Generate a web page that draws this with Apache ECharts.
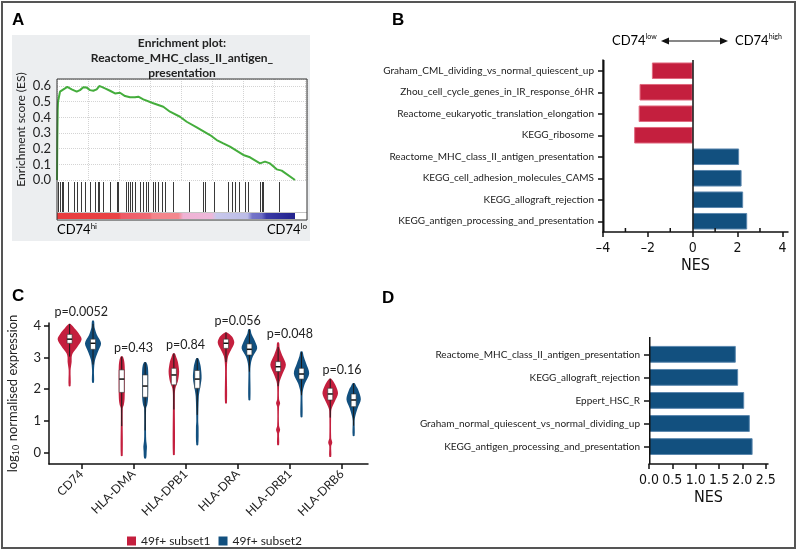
<!DOCTYPE html>
<html lang="en">
<head>
<meta charset="UTF-8">
<title>CD74 enrichment and expression panels</title>
<script src="https://cdn.jsdelivr.net/npm/echarts@6.0.0/dist/echarts.min.js"></script>
<style>
  html, body { margin: 0; padding: 0; background: #fff; }
  #chart { width: 800px; height: 554px; }
</style>
</head>
<body>
<div id="chart"></div>
<script>
// ---------- panel A: GSEA running enrichment score, [rank, ES]
const esCurve = [
  [0, 0], [0.3, 0.25], [0.7, 0.45], [1, 0.5], [3, 0.564], [5.3, 0.574], [8, 0.585],
  [10.3, 0.595], [14.7, 0.579], [19.7, 0.564], [23, 0.574], [26.3, 0.592], [29.7, 0.59],
  [33, 0.574], [36.3, 0.57], [39.7, 0.579], [42.3, 0.6], [44.7, 0.595], [48, 0.585],
  [53, 0.57], [58, 0.553], [63, 0.557], [68, 0.536], [73, 0.528], [78, 0.528],
  [81.3, 0.532], [86.3, 0.515], [96.3, 0.49], [106.3, 0.468], [113, 0.436], [123, 0.404],
  [129.7, 0.372], [139.7, 0.336], [153, 0.287], [159.7, 0.255], [166.3, 0.234],
  [173, 0.213], [186.3, 0.16], [193, 0.145], [203, 0.106], [208, 0.117], [213, 0.106],
  [219.7, 0.068], [224.7, 0.06], [238, 0]
];
// positions of the gene-set members in the ranked list
const hitRanks = [
  0.7, 2.7, 4.7, 6.3, 10.7, 17.3, 19.7, 24, 28, 33, 38, 40.7, 42, 46.3, 53, 59.7, 61.3,
  69, 71.3, 73, 74.7, 78, 83, 86.3, 88.7, 91.3, 95.7, 98, 101.3, 104.7, 108, 116.3,
  132.3, 145.7, 148, 157.3, 171.3, 174.7, 178, 182.3, 188, 191.3, 203, 204.7, 206.3, 221.7
];

// ---------- panel B
const pathwaysB = [
  'Graham_CML_dividing_vs_normal_quiescent_up',
  'Zhou_cell_cycle_genes_in_IR_response_6HR',
  'Reactome_eukaryotic_translation_elongation',
  'KEGG_ribosome',
  'Reactome_MHC_class_II_antigen_presentation',
  'KEGG_cell_adhesion_molecules_CAMS',
  'KEGG_allograft_rejection',
  'KEGG_antigen_processing_and_presentation'
];
const nesB = [-1.82, -2.37, -2.41, -2.61, 2.07, 2.18, 2.25, 2.43];
const nesTicksB = [-4, -2, 0, 2, 4];
const nesMinorB = [-3, -1, 1, 3];

// ---------- panel C: violins, density profiles [log10 expression, relative density]
const genes = ['CD74', 'HLA-DMA', 'HLA-DPB1', 'HLA-DRA', 'HLA-DRB1', 'HLA-DRB6'];
const pValues = ['p=0.0052', 'p=0.43', 'p=0.84', 'p=0.056', 'p=0.048', 'p=0.16'];
const exprTicks = [0, 1, 2, 3, 4];
const subset1Density = [
  [[2.1, .08], [2.6, .08], [2.87, .17], [3.0, .17], [3.13, .25], [3.35, .67], [3.58, 1], [3.77, .75], [3.92, .42], [4.06, .08]],
  [[-0.1, .08], [1.4, .08], [1.5, .17], [1.7, .24], [2.3, .26], [2.71, .25], [2.9, .2], [3.03, .08]],
  [[-0.07, .08], [1.8, .08], [2.03, .13], [2.24, .33], [2.56, .44], [2.87, .33], [3.0, .21], [3.13, .08]],
  [[1.56, .08], [2.7, .08], [3.03, .17], [3.24, .42], [3.47, .69], [3.66, .5], [3.79, .08]],
  [[0.24, .08], [0.6, .08], [0.72, .17], [0.85, .08], [1.45, .08], [1.56, .17], [1.68, .08], [2.1, .08], [2.24, .13], [2.45, .33], [2.77, .65], [3.08, .33], [3.3, .13], [3.47, .08]],
  [[-0.13, .08], [0.2, .08], [0.32, .17], [0.45, .08], [1.3, .08], [1.4, .13], [1.61, .38], [1.87, .65], [2.14, .42], [2.33, .08]]
];
const subset2Density = [
  [[2.21, .08], [2.6, .08], [2.92, .17], [3.19, .42], [3.45, .67], [3.71, .33], [3.95, .13], [4.16, .08]],
  [[-0.18, .08], [0.05, .13], [0.19, .15], [0.35, .1], [0.5, .08], [1.4, .08], [1.5, .17], [1.7, .24], [2.3, .26], [2.6, .25], [2.75, .2], [2.85, .08]],
  [[0.24, .08], [0.8, .11], [1.0, .08], [1.77, .13], [1.98, .21], [2.35, .36], [2.71, .29], [2.9, .17], [2.98, .08]],
  [[1.66, .08], [2.6, .08], [2.82, .13], [3.03, .29], [3.29, .65], [3.55, .42], [3.75, .17], [3.89, .08]],
  [[1.12, .08], [1.8, .08], [1.98, .13], [2.19, .29], [2.5, .64], [2.82, .38], [3.05, .17], [3.19, .08]],
  [[0.53, .08], [1.0, .08], [1.14, .13], [1.4, .33], [1.68, .6], [1.98, .38], [2.1, .21], [2.19, .08]]
];
// [q1, median, q3]
const subset1Box = [[3.45, 3.58, 3.73], [1.9, 2.32, 2.61], [2.14, 2.45, 2.66], [3.29, 3.45, 3.58], [2.56, 2.71, 2.87], [1.66, 1.85, 2.03]];
const subset2Box = [[3.26, 3.45, 3.58], [1.75, 2.1, 2.45], [2.03, 2.32, 2.59], [3.08, 3.26, 3.43], [2.32, 2.48, 2.66], [1.45, 1.66, 1.85]];

// ---------- panel D
const pathwaysD = [
  'Reactome_MHC_class_II_antigen_presentation',
  'KEGG_allograft_rejection',
  'Eppert_HSC_R',
  'Graham_normal_quiescent_vs_normal_dividing_up',
  'KEGG_antigen_processing_and_presentation'
];
const nesD = [1.86, 1.91, 2.04, 2.16, 2.22];
const nesTicksD = [0, 0.5, 1, 1.5, 2, 2.5];

// ---------- styles
const RED = '#c41f3e', RED_EDGE = '#e0687e', BLUE = '#12507f', BLUE_EDGE = '#5b87ae';
const GREEN = '#44ad3c';
const INK = '#111';
const SANS = 'Lato, "Open Sans", sans-serif';
const NARROW = '"Liberation Sans Narrow", "DejaVu Sans Condensed", sans-serif';
const LETTER = '"Liberation Sans", Arial, sans-serif';
const VIOLIN_HALF = 12;    // px half width at density 1
const VIOLIN_SHIFT = 11.7; // px offset of each subset from the gene tick
const RANK_COLORS = [
  { offset: 0, color: '#e83b3d' }, { offset: 0.26, color: '#ea4446' },
  { offset: 0.27, color: '#ef5a66' }, { offset: 0.39, color: '#f06a74' },
  { offset: 0.40, color: '#f4848a' }, { offset: 0.51, color: '#f4888e' },
  { offset: 0.53, color: '#f0b2d4' }, { offset: 0.65, color: '#eeb8da' },
  { offset: 0.67, color: '#c8c8ec' }, { offset: 0.80, color: '#bcbce6' },
  { offset: 0.82, color: '#7474c8' }, { offset: 0.86, color: '#6a6ac4' },
  { offset: 0.88, color: '#3a3aa6' }, { offset: 1, color: '#22228c' }
];

const axisLineStyle = { color: INK, width: 1.5 };
const supRich = {
  a: { fontSize: 13, fontFamily: SANS, color: '#222' },
  s: { fontSize: 8, fontFamily: SANS, color: '#222', padding: [0, 0, 8, 0] }
};
const headRich = {
  a: { fontSize: 13, fontFamily: SANS, color: '#222' },
  s: { fontSize: 7, fontFamily: SANS, color: '#222', padding: [0, 0, 8, 0] }
};

function violinRenderer(density, box, shift, color) {
  return function (params, api) {
    const k = api.value(0);
    const prof = density[k];
    const cx = api.coord([k, 0])[0] + shift;
    const y = v => api.coord([k, v])[1];
    const right = prof.map(p => [cx + p[1] * VIOLIN_HALF, y(p[0])]);
    const left = prof.slice().reverse().map(p => [cx - p[1] * VIOLIN_HALF, y(p[0])]);
    const q1 = box[k][0], med = box[k][1], q3 = box[k][2];
    const iqr = q3 - q1;
    const lo = Math.max(prof[0][0], q1 - 1.5 * iqr);
    const hi = Math.min(prof[prof.length - 1][0], q3 + 1.5 * iqr);
    return {
      type: 'group',
      children: [
        { type: 'polygon', shape: { points: right.concat(left), smooth: 0.3 }, style: { fill: color } },
        { type: 'line', shape: { x1: cx, y1: y(lo), x2: cx, y2: y(hi) }, style: { stroke: '#1a1a1a', lineWidth: 1 } },
        { type: 'rect', shape: { x: cx - 2.5, y: y(q3), width: 5, height: y(q1) - y(q3) }, style: { fill: '#fff', stroke: '#333', lineWidth: 0.6 } },
        { type: 'line', shape: { x1: cx - 2.5, y1: y(med), x2: cx + 2.5, y2: y(med) }, style: { stroke: INK, lineWidth: 1.5 } }
      ]
    };
  };
}

const chart = echarts.init(document.getElementById('chart'));

const option = {
  animation: false,
  backgroundColor: '#fff',
  textStyle: { fontFamily: SANS },
  grid: [
    { left: 57, top: 79, width: 250, height: 101, show: true, backgroundColor: '#fff', borderWidth: 0 },
    { left: 57, top: 180, width: 250, height: 40, show: true, backgroundColor: '#fff', borderWidth: 0 },
    { left: 603, top: 60, width: 185, height: 172 },
    { left: 49, top: 323, width: 319, height: 141 },
    { left: 649, top: 337, width: 119, height: 127 },
    { left: 649, top: 342.8, width: 119, height: 115.3 }
  ],
  xAxis: [
    { gridIndex: 0, type: 'value', min: 0, max: 250, interval: 31,
      axisLine: { show: false }, axisTick: { show: false }, axisLabel: { show: false },
      splitLine: { show: true, lineStyle: { color: '#d4d4d4', type: 'dotted' } } },
    { gridIndex: 1, type: 'value', min: 0, max: 250, show: false },
    { gridIndex: 2, type: 'value', min: -4, max: 4.25,
      axisLine: { show: true, onZero: false, lineStyle: axisLineStyle },
      axisTick: { show: true, customValues: nesTicksB, length: 5, lineStyle: axisLineStyle },
      axisLabel: { customValues: nesTicksB, formatter: v => v < 0 ? '\u2013' + (-v) : String(v),
        margin: 9, fontSize: 14, fontFamily: NARROW, color: INK },
      splitLine: { show: false },
      name: 'NES', nameLocation: 'middle', nameGap: 26,
      nameTextStyle: { fontSize: 16, fontFamily: NARROW, color: INK } },
    { gridIndex: 3, type: 'value', min: -0.62, max: 5.5,
      axisLine: { show: true, onZero: false, lineStyle: axisLineStyle },
      axisTick: { show: true, customValues: [0, 1, 2, 3, 4, 5], length: 5, lineStyle: axisLineStyle },
      axisLabel: { customValues: [0, 1, 2, 3, 4, 5], formatter: v => genes[v], rotate: 45,
        fontSize: 12, margin: 8, color: '#222' },
      splitLine: { show: false } },
    { gridIndex: 4, type: 'value', min: 0, max: 2.55,
      axisLine: { show: true, onZero: false, lineStyle: axisLineStyle },
      axisTick: { show: true, customValues: nesTicksD, length: 5, lineStyle: axisLineStyle },
      axisLabel: { customValues: nesTicksD, formatter: v => v.toFixed(1),
        margin: 9, fontSize: 14, fontFamily: NARROW, color: INK },
      splitLine: { show: false },
      name: 'NES', nameLocation: 'middle', nameGap: 26,
      nameTextStyle: { fontSize: 16, fontFamily: NARROW, color: INK } },
    { gridIndex: 5, type: 'value', min: 0, max: 2.55, show: false }
  ],
  yAxis: [
    { gridIndex: 0, type: 'value', min: 0, max: 0.645, interval: 0.1,
      axisLine: { show: false, onZero: false }, axisTick: { show: false },
      axisLabel: { showMaxLabel: false, formatter: v => v.toFixed(1), fontSize: 13, margin: 6, color: '#222' },
      splitLine: { show: true, lineStyle: { color: '#d4d4d4', type: 'dotted' } },
      name: 'Enrichment score (ES)', nameLocation: 'middle', nameGap: 30,
      nameTextStyle: { fontSize: 12, color: '#222' } },
    { gridIndex: 1, type: 'value', min: 0, max: 1, inverse: true, show: false },
    { gridIndex: 2, type: 'category', data: pathwaysB, inverse: true,
      axisLine: { show: true, onZero: false, lineStyle: axisLineStyle },
      axisTick: { show: true, alignWithLabel: true, length: 5, lineStyle: axisLineStyle },
      axisLabel: { fontSize: 10, margin: 9, color: '#222' } },
    { gridIndex: 3, type: 'value', min: -0.36, max: 4.09,
      axisLine: { show: true, onZero: false, lineStyle: axisLineStyle },
      axisTick: { show: true, customValues: exprTicks, length: 5, lineStyle: axisLineStyle },
      axisLabel: { customValues: exprTicks, fontSize: 13, margin: 8, color: '#222' },
      splitLine: { show: false },
      name: 'log{sub|10} normalised expression', nameLocation: 'middle', nameGap: 28,
      nameTextStyle: { fontSize: 13, color: '#222',
        rich: { sub: { fontSize: 9, color: '#222', padding: [7, 0, 0, 0] } } } },
    { gridIndex: 4, type: 'value', min: 0, max: 1, show: false },
    { gridIndex: 5, type: 'category', data: pathwaysD, inverse: true,
      axisLine: { show: false, onZero: false },
      axisTick: { show: true, alignWithLabel: true, length: 5, lineStyle: axisLineStyle },
      axisLabel: { fontSize: 10, margin: 9, color: '#222' } }
  ],
  legend: {
    left: 122, top: 530, itemWidth: 9, itemHeight: 9, itemGap: 8, icon: 'rect',
    textStyle: { fontSize: 12, color: '#222' },
    data: ['49f+ subset1', '49f+ subset2']
  },
  series: [
    // A: running ES
    { type: 'line', xAxisIndex: 0, yAxisIndex: 0, data: esCurve, showSymbol: false,
      lineStyle: { color: GREEN, width: 2 }, z: 5 },
    // A: hit marks
    { type: 'custom', xAxisIndex: 1, yAxisIndex: 1, data: hitRanks.map(r => [r, 0]),
      renderItem: (params, api) => {
        const x = Math.round(api.coord([api.value(0), 0])[0]) + 0.5;
        return { type: 'line',
          shape: { x1: x, y1: api.coord([0, 0.05])[1], x2: x, y2: api.coord([0, 0.8])[1] },
          style: { stroke: '#3a3a3a', lineWidth: 1 } };
      } },
    // A: ranked-list colour bar
    { type: 'custom', xAxisIndex: 1, yAxisIndex: 1, encode: { x: [0, 1] },
      data: [[0, esCurve[esCurve.length - 1][0]]],
      renderItem: (params, api) => {
        const p0 = api.coord([api.value(0), 0.825]);
        const p1 = api.coord([api.value(1), 0.975]);
        const cs = params.coordSys;
        return { type: 'group', children: [
          { type: 'line', shape: { x1: cs.x, y1: p0[1] - 0.5, x2: cs.x + cs.width, y2: p0[1] - 0.5 },
            style: { stroke: '#c4c4c4', lineWidth: 1 } },
          { type: 'rect', shape: { x: p0[0], y: p0[1], width: p1[0] - p0[0], height: p1[1] - p0[1] },
            style: { fill: { type: 'linear', x: 0, y: 0, x2: 1, y2: 0, colorStops: RANK_COLORS } } }
        ] };
      } },
    // B: bars with the NES = 0 line
    { type: 'bar', xAxisIndex: 2, yAxisIndex: 2, barCategoryGap: '23%',
      data: nesB.map(v => ({ value: v, itemStyle: {
        color: v < 0 ? RED : BLUE, borderColor: v < 0 ? RED_EDGE : BLUE_EDGE, borderWidth: 1 } })),
      markLine: { symbol: 'none', silent: true, label: { show: false },
        lineStyle: { color: INK, width: 1.5, type: 'solid' }, data: [{ xAxis: 0 }] } },
    // C: violins
    { type: 'custom', name: '49f+ subset1', xAxisIndex: 3, yAxisIndex: 3,
      itemStyle: { color: RED }, data: genes.map((g, i) => [i, subset1Box[i][1]]),
      renderItem: violinRenderer(subset1Density, subset1Box, -VIOLIN_SHIFT, RED) },
    { type: 'custom', name: '49f+ subset2', xAxisIndex: 3, yAxisIndex: 3,
      itemStyle: { color: BLUE }, data: genes.map((g, i) => [i, subset2Box[i][1]]),
      renderItem: violinRenderer(subset2Density, subset2Box, VIOLIN_SHIFT, BLUE) },
    // C: p-values above each pair
    { type: 'custom', xAxisIndex: 3, yAxisIndex: 3,
      data: genes.map((g, i) => [i, Math.max(subset1Density[i][subset1Density[i].length - 1][0],
                                             subset2Density[i][subset2Density[i].length - 1][0])]),
      renderItem: (params, api) => {
        const p = api.coord([api.value(0), api.value(1)]);
        return { type: 'text', style: { text: pValues[params.dataIndex], x: p[0], y: p[1] - 2,
          align: 'center', verticalAlign: 'bottom', fontSize: 12.5, fontFamily: SANS, fill: '#222' } };
      } },
    // D: bars
    { type: 'bar', xAxisIndex: 5, yAxisIndex: 5, barCategoryGap: '27%',
      data: nesD, itemStyle: { color: BLUE, borderColor: BLUE_EDGE, borderWidth: 1 } }
  ],
  graphic: { elements: [
    { id: 'bgA', type: 'rect', z: -10, shape: { x: 12, y: 35, width: 298, height: 206 }, style: { fill: '#eceef0' } },
    { id: 'boxA', type: 'rect', z: 50, shape: { x: 57, y: 79, width: 250, height: 141 },
      style: { fill: 'none', stroke: '#333', lineWidth: 1 } },
    { id: 'titleA', type: 'text', z: 50, x: 182, y: 36, style: {
      text: 'Enrichment plot:\nReactome_MHC_class_II_antigen_\npresentation',
      align: 'center', verticalAlign: 'top', fontSize: 12, fontWeight: 'bold',
      fontFamily: SANS, lineHeight: 15, fill: '#222' } },
    { id: 'hiA', type: 'text', z: 50, x: 57, y: 230, style: { text: '{a|CD74}{s|hi}', rich: supRich, verticalAlign: 'middle' } },
    { id: 'loA', type: 'text', z: 50, x: 307, y: 230, style: { text: '{a|CD74}{s|lo}', rich: supRich, align: 'right', verticalAlign: 'middle' } },
    { id: 'lowB', type: 'text', z: 50, x: 612, y: 41, style: { text: '{a|CD74}{s|low}', rich: headRich, verticalAlign: 'middle' } },
    { id: 'highB', type: 'text', z: 50, x: 735, y: 41, style: { text: '{a|CD74}{s|high}', rich: headRich, verticalAlign: 'middle' } },
    { id: 'arrowB', type: 'line', z: 50, shape: { x1: 666, y1: 41, x2: 724, y2: 41 }, style: { stroke: INK, lineWidth: 1.2 } },
    { id: 'headL', type: 'polygon', z: 50, shape: { points: [[661, 41], [669, 37.5], [669, 44.5]] }, style: { fill: INK } },
    { id: 'headR', type: 'polygon', z: 50, shape: { points: [[728, 41], [720, 37.5], [720, 44.5]] }, style: { fill: INK } },
    { id: 'lA', type: 'text', z: 50, x: 12, y: 20, style: { text: 'A', fontSize: 17, fontWeight: 'bold', fontFamily: LETTER, fill: '#000', verticalAlign: 'middle' } },
    { id: 'lB', type: 'text', z: 50, x: 392, y: 20, style: { text: 'B', fontSize: 17, fontWeight: 'bold', fontFamily: LETTER, fill: '#000', verticalAlign: 'middle' } },
    { id: 'lC', type: 'text', z: 50, x: 12, y: 296, style: { text: 'C', fontSize: 17, fontWeight: 'bold', fontFamily: LETTER, fill: '#000', verticalAlign: 'middle' } },
    { id: 'lD', type: 'text', z: 50, x: 382, y: 298, style: { text: 'D', fontSize: 17, fontWeight: 'bold', fontFamily: LETTER, fill: '#000', verticalAlign: 'middle' } },
    { id: 'frame', type: 'rect', z: 60, shape: { x: 2, y: 2, width: 793, height: 546 },
      style: { fill: 'none', stroke: '#555', lineWidth: 2 } }
  ] }
};

chart.setOption(option);

// frame edges of panels B and D along their grid's left side
const gridB = option.grid[2], gridD = option.grid[4];
const edges = [
  { id: 'edgeB', type: 'line', z: 40, shape: { x1: gridB.left + 0.75, y1: gridB.top,
    x2: gridB.left + 0.75, y2: gridB.top + gridB.height }, style: { stroke: INK, lineWidth: 1.5 } },
  { id: 'edgeD', type: 'line', z: 40, shape: { x1: gridD.left + 0.75, y1: gridD.top,
    x2: gridD.left + 0.75, y2: gridD.top + gridD.height }, style: { stroke: INK, lineWidth: 1.5 } }
];
// minor NES ticks of panel B point up into the plot
nesMinorB.forEach((v, i) => {
  const x = chart.convertToPixel({ xAxisIndex: 2 }, v);
  if (isFinite(x)) {
    edges.push({ id: 'minorB' + i, type: 'line', z: 40,
      shape: { x1: x, y1: gridB.top + gridB.height, x2: x, y2: gridB.top + gridB.height - 4 },
      style: { stroke: INK, lineWidth: 1.5 } });
  }
});
chart.setOption({ graphic: { elements: edges } });
</script>
</body>
</html>
